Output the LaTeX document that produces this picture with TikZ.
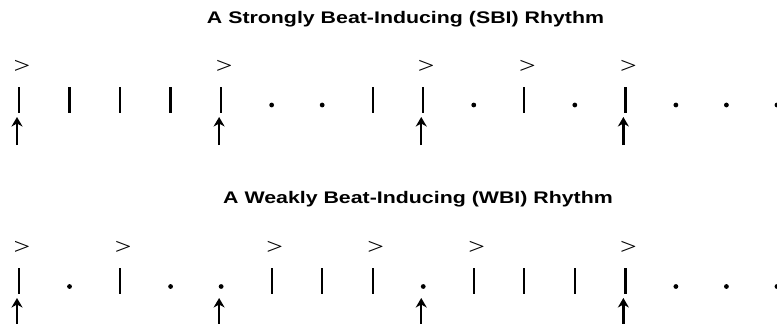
\documentclass[tikz,border=0pt]{standalone}
\usepackage{fontspec}
\setmainfont{Liberation Sans}
\newfontfamily\titlefont[FakeStretch=1.27]{Liberation Sans Bold}
\newfontfamily\accfont[FakeStretch=1.28]{Liberation Serif}
\usetikzlibrary{arrows.meta}
\begin{document}
\begin{tikzpicture}[x=1pt,y=-1pt,
  titlestyle/.style={font=\titlefont\fontsize{16.8}{20}\selectfont, inner sep=0pt, anchor=center},
  barnode/.style={rectangle, fill=black, minimum width=2.3pt, minimum height=26pt, inner sep=0pt, outer sep=0pt},
  dotnode/.style={circle, fill=black, minimum size=4.8pt, inner sep=0pt},
  accnode/.style={font=\accfont\fontsize{23}{24}\selectfont, inner sep=0pt},
  beatarrow/.style={line width=2.5pt, -{Stealth[length=9.5pt,width=11pt,inset=3pt]}}
]
\useasboundingbox (0,0) rectangle (777,324);
\fill[white] (0,0) rectangle (777,324);
% titles
\node[titlestyle] (t1) at (405.5,19) {A Strongly Beat-Inducing (SBI) Rhythm};
\node[titlestyle] (t2) at (418,199) {A Weakly Beat-Inducing (WBI) Rhythm};
% row 1
\foreach \i/\k in {0/b,1/b,2/b,3/b,4/b,5/d,6/d,7/b,8/b,9/d,10/b,11/d,12/b,13/d,14/d,15/d}{
  \pgfmathsetmacro{\xx}{19+50.53*\i}
  \if b\k
    \node[barnode] (s\i) at (\xx,100) {};
  \else
    \node[dotnode] (s\i) at (\xx,105) {};
  \fi
}
\foreach \i in {0,4,8,10,12}{
  \pgfmathsetmacro{\xx}{19+50.53*\i+3}
  \node[accnode] (sa\i) at (\xx,67) {>};
}
\foreach \i in {0,4,8,12}{
  \pgfmathsetmacro{\xx}{19+50.53*\i-2}
  \coordinate (sb\i) at (\xx,145);
  \coordinate (st\i) at (\xx,117);
  \draw[beatarrow] (sb\i) -- (st\i);
}
% row 2
\foreach \i/\k in {0/b,1/d,2/b,3/d,4/d,5/b,6/b,7/b,8/d,9/b,10/b,11/b,12/b,13/d,14/d,15/d}{
  \pgfmathsetmacro{\xx}{19+50.53*\i}
  \if b\k
    \node[barnode] (w\i) at (\xx,281) {};
  \else
    \node[dotnode] (w\i) at (\xx,286.5) {};
  \fi
}
\foreach \i in {0,2,5,7,9,12}{
  \pgfmathsetmacro{\xx}{19+50.53*\i+3}
  \node[accnode] (wa\i) at (\xx,248) {>};
}
\foreach \i in {0,4,8,12}{
  \pgfmathsetmacro{\xx}{19+50.53*\i-2}
  \coordinate (wb\i) at (\xx,326);
  \coordinate (wt\i) at (\xx,298);
  \draw[beatarrow] (wb\i) -- (wt\i);
}
\end{tikzpicture}
\end{document}
